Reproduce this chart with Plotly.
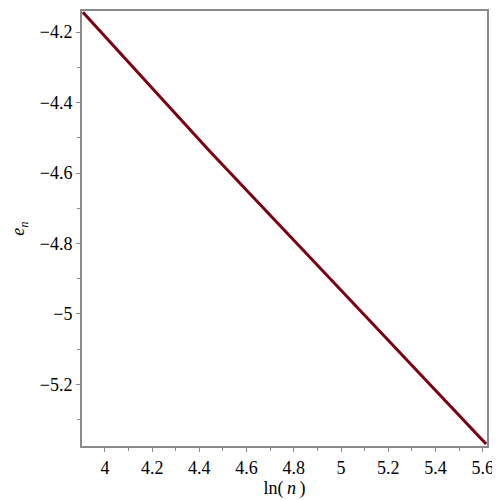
import plotly.graph_objects as go

# valores
ln_n = [3.907, 4.445, 4.962, 5.614]
e_n = [-4.1435, -4.539, -4.906, -5.3695]

serif = "Liberation Serif, Times New Roman, serif"
gris = "#8a8a8a"

fig = go.Figure()
fig.add_trace(go.Scatter(
    x=ln_n,
    y=e_n,
    mode="lines",
    line=dict(color="#7a0012", width=3),
    showlegend=False,
))

# el body de la página tiene 8px de margen: se compensa aquí
fig.update_layout(
    width=492,
    height=492,
    plot_bgcolor="white",
    paper_bgcolor="white",
    margin=dict(l=74, r=13, t=1, b=54),
    font=dict(family=serif, size=18, color="black"),
    xaxis=dict(
        range=[3.903, 5.618],
        tick0=4, dtick=0.2,
        showgrid=False, zeroline=False,
        showline=True, linecolor=gris, linewidth=2, mirror=True,
        ticks="outside", ticklen=4, tickcolor=gris, tickwidth=1,
        minor=dict(ticks="outside", dtick=0.1, tick0=4, ticklen=3, tickcolor=gris, showgrid=False),
        tickfont=dict(family=serif, size=18, color="black"),
        ticklabeloverflow="allow",
        title=dict(text="ln(\u2009<i>n</i>\u2009)", font=dict(family=serif, size=18), standoff=0),
    ),
    yaxis=dict(
        range=[-5.375, -4.14],
        tick0=-4.2, dtick=0.2,
        showgrid=False, zeroline=False,
        showline=True, linecolor=gris, linewidth=2, mirror=True,
        ticks="outside", ticklen=4, tickcolor=gris, tickwidth=1,
        minor=dict(ticks="outside", dtick=0.1, tick0=-4.2, ticklen=3, tickcolor=gris, showgrid=False),
        tickfont=dict(family=serif, size=18, color="black"),
        title=dict(text="<i>e</i><sub><i>n</i></sub>", font=dict(family=serif, size=18), standoff=12),
    ),
)

fig.write_html("out.html")
